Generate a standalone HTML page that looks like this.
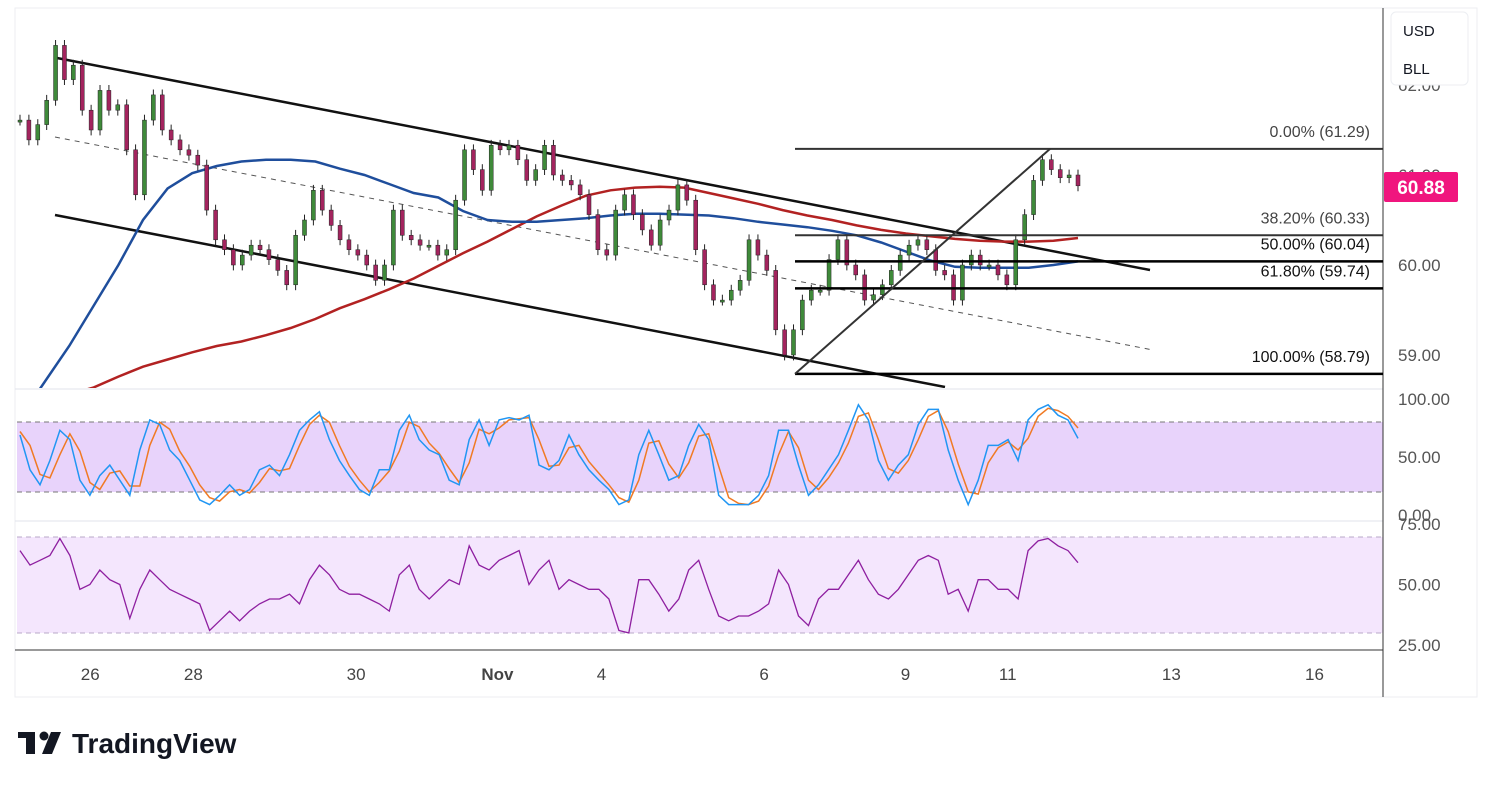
<!DOCTYPE html>
<html><head><meta charset="utf-8"><style>
body{margin:0;background:#fff;}
svg{display:block;font-family:"Liberation Sans",sans-serif;}
</style></head><body>
<svg id="c" width="1491" height="788" viewBox="0 0 1491 788">
<defs><clipPath id="mainClip"><rect x="15" y="8" width="1368" height="380"/></clipPath></defs>
<rect x="0" y="0" width="1491" height="788" fill="#fff"/>
<rect x="15" y="8" width="1462" height="689" fill="none" stroke="#eceef2"/>
<rect x="17" y="422" width="1366" height="70" fill="#e8d3fb"/>
<rect x="17" y="537" width="1366" height="96" fill="#f4e6fd"/>
<g stroke="#777" stroke-dasharray="5,4" stroke-width="1">
<line x1="17" y1="422" x2="1383" y2="422"/>
<line x1="17" y1="492" x2="1383" y2="492"/>
</g>
<g stroke="#b9a8c8" stroke-dasharray="5,4" stroke-width="1">
<line x1="17" y1="537" x2="1383" y2="537"/>
<line x1="17" y1="633" x2="1383" y2="633"/>
</g>
<line x1="15" y1="389" x2="1383" y2="389" stroke="#e0e3eb"/>
<line x1="15" y1="521" x2="1383" y2="521" stroke="#e0e3eb"/>
<line x1="15" y1="650" x2="1383" y2="650" stroke="#333"/>
<line x1="1383" y1="8" x2="1383" y2="697" stroke="#333"/>
<g id="main" clip-path="url(#mainClip)"></g>
<g id="osc"></g>
<g id="axes"></g>
<rect x="1391" y="12" width="77" height="73" rx="5" fill="#fff" stroke="#eceef2"/>
<text x="1403" y="36" font-size="15" fill="#131722">USD</text>
<text x="1403" y="74" font-size="15" fill="#131722">BLL</text>
<rect x="1384" y="172" width="74" height="30" rx="2" fill="#f0157e"/>
<text x="1421" y="194" font-size="19" font-weight="bold" fill="#fff" text-anchor="middle">60.88</text>
<g>
<rect x="18" y="732" width="17" height="6" fill="#131722"/>
<rect x="26" y="732" width="9" height="22" fill="#131722"/>
<circle cx="44" cy="736" r="4.5" fill="#131722"/>
<polygon points="51,732 61,732 52,754 42,754" fill="#131722"/>
<text x="72" y="753" font-size="28" font-weight="bold" fill="#131722">TradingView</text>
</g>
</svg>
<script>
const closes=[61.61,61.39,61.56,61.83,62.44,62.06,62.22,61.72,61.50,61.94,61.72,61.78,61.28,60.78,61.61,61.89,61.50,61.39,61.28,61.22,61.11,60.61,60.28,60.17,60.00,60.11,60.22,60.17,60.06,59.94,59.78,60.33,60.50,60.83,60.61,60.44,60.28,60.17,60.11,60.00,59.83,60.00,60.61,60.33,60.28,60.22,60.22,60.11,60.17,60.72,61.28,61.06,60.83,61.33,61.28,61.33,61.17,60.94,61.06,61.33,61.00,60.94,60.89,60.78,60.56,60.17,60.11,60.61,60.78,60.56,60.39,60.22,60.50,60.61,60.89,60.72,60.17,59.78,59.61,59.61,59.72,59.83,60.28,60.11,59.94,59.28,59.00,59.28,59.61,59.72,59.72,60.06,60.28,60.00,59.89,59.61,59.67,59.78,59.94,60.11,60.22,60.28,60.17,59.94,59.89,59.61,60.00,60.11,60.00,60.00,59.89,59.78,60.28,60.56,60.94,61.17,61.06,60.97,61.00,60.88];
const maFast=[58.3,58.7,59.1,59.55,60.0,60.5,60.85,61.02,61.1,61.15,61.17,61.17,61.15,61.07,61.0,60.9,60.8,60.75,60.6,60.5,60.48,60.48,60.5,60.52,60.55,60.57,60.57,60.56,60.55,60.52,60.48,60.45,60.42,60.38,60.33,60.25,60.15,60.05,59.98,59.97,59.97,59.97,60.0,60.04];
const maSlow=[58.4,58.48,58.56,58.64,58.76,58.87,58.95,59.03,59.1,59.15,59.22,59.3,59.4,59.52,59.62,59.73,59.85,59.99,60.13,60.26,60.4,60.54,60.66,60.77,60.83,60.86,60.87,60.86,60.8,60.74,60.68,60.61,60.55,60.5,60.44,60.39,60.35,60.32,60.29,60.27,60.26,60.26,60.27,60.3];
const stochK=[69,39,26,47,73,65,30,17,34,43,30,17,56,82,78,56,47,30,13,9,17,26,17,22,39,43,34,52,73,82,89,65,47,34,22,17,39,39,73,86,65,56,52,30,26,65,82,60,82,84,82,86,43,39,47,69,52,39,30,22,9,13,52,73,52,30,34,60,78,65,17,9,9,9,17,34,73,73,43,17,26,39,52,73,95,82,47,30,43,52,78,91,91,56,30,9,30,60,60,65,47,82,91,95,86,82,66];
const stochD=[72,60,35,32,52,70,55,28,22,36,38,25,25,60,80,74,55,42,26,15,12,20,22,19,28,40,38,40,60,78,86,80,60,42,30,20,28,38,55,80,76,62,53,40,28,45,74,70,75,82,83,84,65,42,43,58,60,46,36,26,15,11,30,62,64,44,32,45,68,70,42,15,10,9,12,25,52,72,58,30,22,32,45,62,85,88,65,40,36,47,65,85,90,72,44,20,18,45,58,63,56,66,85,92,90,85,75];
const rsi=[64,58,60,62,69,62,48,50,56,52,50,36,48,56,52,48,46,44,42,31,35,39,35,39,42,44,44,46,42,52,58,54,48,46,46,44,42,39,54,58,48,44,48,52,50,66,58,56,60,62,64,50,56,60,48,52,50,48,48,44,31,30,52,52,46,39,44,56,60,48,37,35,37,37,39,42,56,50,37,33,44,48,48,54,60,52,46,44,48,54,60,62,60,46,48,39,52,52,48,48,44,64,68,69,66,64,59];
const priceTicks=["62.00","61.00","60.00","59.00"];
const priceTickVals=[62,61,60,59];
const stochTicks=["100.00","50.00","0.00"];
const stochTickVals=[100,50,0];
const rsiTicks=["75.00","50.00","25.00"];
const rsiTickVals=[75,50,25];
const dateLabels=["26","28","30","Nov","4","6","9","11","13","16"];
const dateSlots=[7.9,19.5,37.8,53.7,65.4,83.7,99.6,111.1,129.5,145.6];
const fibPcts=["0.00%","38.20%","50.00%","61.80%","100.00%"];
const fibVals=[61.29,60.33,60.04,59.74,58.79];

const NS="http://www.w3.org/2000/svg";
function mk(tag,attrs,parent){const e=document.createElementNS(NS,tag);for(const k in attrs)e.setAttribute(k,attrs[k]);parent.appendChild(e);return e;}
const X0=20,X1=1078;
const STEP=(X1-X0)/(closes.length-1);
const xs=i=>X0+i*STEP;
const yP=v=>265-(v-60)*90;
const yS=v=>515-v*1.16;
const yR=v=>524+(75-v)*2.42;
const main=document.getElementById('main'),osc=document.getElementById('osc'),axes=document.getElementById('axes');

let l=mk('line',{x1:57,y1:58,x2:1150,y2:270,stroke:'#111','stroke-width':2.5},main);


l=mk('line',{x1:55,y1:215,x2:945,y2:387,stroke:'#111','stroke-width':2.5},main);


l=mk('line',{x1:55,y1:137,x2:1153,y2:350,stroke:'#555','stroke-width':1,'stroke-dasharray':'5,5'},main);



function maPath(arr,color,name){let d='';const step=(closes.length-1)/(arr.length-1);arr.forEach((v,i)=>{const x=xs(i*step),y=yP(v);d+=(i?'L':'M')+x.toFixed(1)+','+y.toFixed(1);});
const p=mk('path',{d:d,fill:'none',stroke:color,'stroke-width':2.5},main);

}
maPath(maSlow,'#b22222','slow-moving-average');
maPath(maFast,'#1f4e9c','fast-moving-average');

closes.forEach((c,i)=>{const o=i?closes[i-1]:c;const x=xs(i);const hi=Math.max(o,c)+0.06,lo=Math.min(o,c)-0.06;const col=c>=o?'#3f8a3a':'#a3245e';
const g=mk('g',{},main);


mk('line',{x1:x,x2:x,y1:yP(hi),y2:yP(lo),stroke:'#222','stroke-width':1},g);
const top=yP(Math.max(o,c)),h=Math.max(2,Math.abs(yP(o)-yP(c)));
mk('rect',{x:x-2,y:top,width:4,height:h,fill:col,stroke:'#222','stroke-width':0.5},g);});

fibVals.forEach((v,i)=>{const y=yP(v);const dark=i>=2;
const ln=mk('line',{x1:795,x2:1383,y1:y,y2:y,stroke:dark?'#000':'#333','stroke-width':dark?2.5:2},main);


const t=mk('text',{x:1370,y:y-12,'font-size':16,fill:i<2?'#444':'#111','text-anchor':'end'},main);
t.textContent=fibPcts[i]+' ('+v.toFixed(2)+')';

});
l=mk('line',{x1:795,y1:yP(fibVals[4]),x2:1050,y2:yP(fibVals[0]),stroke:'#333','stroke-width':2},main);



function linePath(arr,fy,color,name,w){const step=(closes.length-1)/(arr.length-1);let d='';arr.forEach((v,i)=>{d+=(i?'L':'M')+xs(i*step).toFixed(1)+','+fy(v).toFixed(1);});
const p=mk('path',{d:d,fill:'none',stroke:color,'stroke-width':w},osc);

}
linePath(stochD,yS,'#f07a24','stoch-d-line',1.5);
linePath(stochK,yS,'#2196f3','stoch-k-line',1.5);
linePath(rsi,yR,'#8e1fa0','rsi-line',1.3);

function tick(txt,y,name){const t=mk('text',{x:1398,y:y+6,'font-size':17,fill:'#555'},axes);t.textContent=txt;

}
priceTicks.forEach((s,i)=>tick(s,yP(priceTickVals[i]),'price-tick'));
stochTicks.forEach((s,i)=>tick(s,yS(stochTickVals[i]),'stoch-tick'));
rsiTicks.forEach((s,i)=>tick(s,yR(rsiTickVals[i]),'rsi-tick'));
dateLabels.forEach((s,i)=>{const t=mk('text',{x:xs(dateSlots[i]),y:680,'font-size':17,fill:'#444','text-anchor':'middle','font-weight':s==='Nov'?'bold':'normal'},axes);t.textContent=s;

});
</script>
</body></html>
